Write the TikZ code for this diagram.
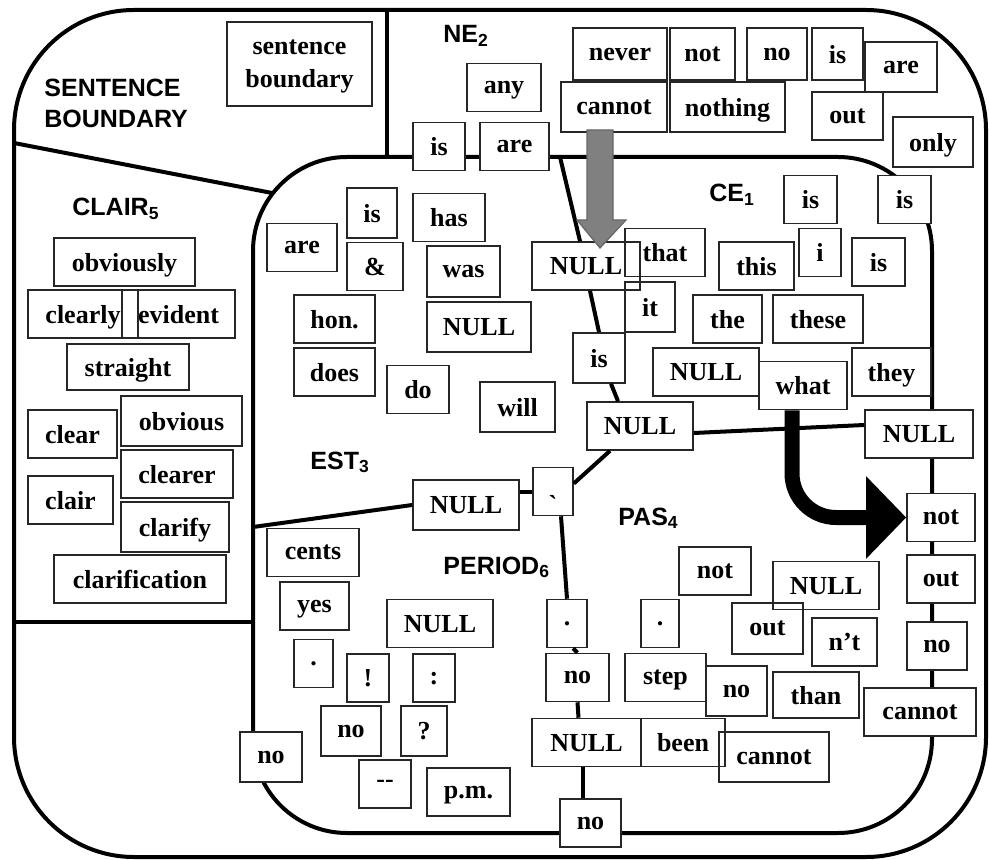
\documentclass[tikz,border=0pt]{standalone}
\usepackage{fontspec}
\setmainfont{Liberation Serif}
\newfontfamily\labelfamily{Liberation Sans}
\usetikzlibrary{arrows.meta}
\newcommand{\wordfont}{\fontsize{13}{16.5}\selectfont\bfseries}
\newcommand{\regionfont}{\labelfamily\fontsize{12.5}{15.5}\selectfont\bfseries}

\begin{document}
\begin{tikzpicture}[x=0.5pt, y=-0.5pt,
    word/.style={draw=black!85, line width=0.8pt, inner sep=0pt, minimum height=24pt, text depth=0pt, font=\wordfont},
    edgeword/.style={word, fill=white},
    border/.style={line width=2pt, line join=round},
    region/.style={anchor=base west, inner sep=0pt, font=\regionfont}]

    \useasboundingbox (0,0) rectangle (989,860);

    % Outer frame with its partitions
    \draw[border, rounded corners=60pt] (14,10) rectangle (986,857);
    \coordinate (neTop) at (387,10);
    \coordinate (neBot) at (387,157);
    \coordinate (sbL) at (14,143);
    \coordinate (sbR) at (272,193);
    \coordinate (clL) at (14,622);
    \coordinate (clR) at (253,622);
    \draw[border] (neTop) -- (neBot);
    \draw[border] (sbL) -- (sbR);
    \draw[border] (clL) -- (clR);

    % Inner frame
    \draw[border, rounded corners=47pt] (253,157) rectangle (932,833);
    \coordinate (ceTop) at (560,157);
    \coordinate (estL) at (253,527);

    % Region labels
    \node[region] (sbLabel) at (44,97) {SENTENCE};
    \node[region] (sbLabelB) at (44,128) {BOUNDARY};
    \node[region] (neLabel) at (443,43) {NE\textsubscript{2}};
    \node[region] (ceLabel) at (709,202) {CE\textsubscript{1}};
    \node[region] (clairLabel) at (72,216) {CLAIR\textsubscript{5}};
    \node[region] (estLabel) at (310,469) {EST\textsubscript{3}};
    \node[region] (pasLabel) at (618,525) {PAS\textsubscript{4}};
    \node[region] (periodLabel) at (443,574) {PERIOD\textsubscript{6}};

    % Sentence boundary - top left
    \node[word, minimum width=72.5pt, minimum height=42pt, align=center] (sbBox) at (299.5,64) {sentence\\boundary};

    % NE - top
    \node[word, minimum width=37pt] (anyN) at (504,87.5) {any};
    \node[edgeword, minimum width=26pt] (isN) at (439,146.5) {is};
    \node[edgeword, minimum width=34.5pt] (areN) at (514.5,146.5) {are};
    \node[word, minimum width=47pt, minimum height=26pt] (neverN) at (620,54) {never};
    \node[word, minimum width=32.5pt, minimum height=26pt] (notN) at (702.5,54) {not};
    \node[word, minimum width=30pt, minimum height=26pt] (noN) at (777,54) {no};
    \node[word, minimum width=25.5pt, minimum height=26pt] (isNB) at (837.5,54) {is};
    \node[word, minimum width=36pt, minimum height=25pt] (areNB) at (901,67) {are};
    \node[word, minimum width=53pt, minimum height=25pt] (cannotN) at (614,107) {cannot};
    \node[word, minimum width=57.5pt, minimum height=25pt] (nothingN) at (727.5,107) {nothing};
    \node[word, minimum width=35.5pt] (outN) at (847.5,116) {out};
    \node[word, minimum width=40pt, minimum height=25pt] (onlyN) at (933,142) {only};

    % CE - upper right
    \node[word, minimum width=26.5pt] (isC) at (810.5,199.5) {is};
    \node[edgeword, minimum width=26.5pt] (isCB) at (904.5,199.5) {is};
    \node[word, minimum width=54pt] (nullA) at (586,266) {NULL};
    \node[word, minimum width=40pt] (thatC) at (665,252.5) {that};
    \node[word, minimum width=37.5pt] (thisC) at (756.5,266) {this};
    \node[word, minimum width=21pt] (iC) at (820,252.5) {i};
    \node[word, minimum width=26.5pt] (isCC) at (878.5,262) {is};
    \node[word, minimum width=25pt, minimum height=25pt] (itC) at (650,307) {it};
    \node[word, minimum width=34.5pt] (theC) at (727.5,319) {the};
    \node[word, minimum width=45pt] (theseC) at (818,319) {these};
    \node[word, minimum width=26pt, minimum height=25pt] (isX) at (599,358) {is};
    \node[word, minimum width=53pt] (nullC) at (706,372) {NULL};
    \node[word, minimum width=44pt] (whatC) at (803,385.5) {what};
    \node[word, minimum width=39.5pt] (theyC) at (891.5,372) {they};
    \node[word, minimum width=53pt] (nullB) at (640,426) {NULL};
    \node[edgeword, minimum width=54pt] (nullR) at (919,434) {NULL};

    % EST - upper left of the inner frame
    \node[word, minimum width=25pt, minimum height=25pt] (isE) at (372,213) {is};
    \node[word, minimum width=36pt] (hasE) at (449,217.5) {has};
    \node[word, minimum width=35pt] (areE) at (302,247.5) {are};
    \node[word, minimum width=28pt] (ampE) at (375,266.5) {\&};
    \node[word, minimum width=36.5pt, minimum height=25.5pt] (wasE) at (463.5,271.5) {was};
    \node[word, minimum width=52pt, minimum height=25pt] (nullE) at (479,327) {NULL};
    \node[word, minimum width=40.5pt] (honE) at (334.5,319) {hon.};
    \node[word, minimum width=40.5pt] (doesE) at (334.5,372) {does};
    \node[word, minimum width=31pt] (doE) at (418,389.5) {do};
    \node[word, minimum width=37.5pt, minimum height=25pt] (willE) at (517.5,407) {will};
    \node[word, minimum width=53pt, minimum height=25pt] (nullD) at (466,505) {NULL};
    \node[word, minimum width=20pt] (dotX) at (553,491.5) {\smash{\raisebox{-11pt}{\textasciigrave}}};

    % CLAIR - left
    \node[word, minimum width=70.5pt] (obviouslyC) at (124.5,262) {obviously};
    \node[word, minimum width=55pt] (clearlyC) at (83,314) {clearly};
    \node[word, minimum width=56.5pt] (evidentC) at (178.5,314) {evident};
    \node[word, minimum width=61pt, minimum height=23pt] (straightC) at (128,367) {straight};
    \node[word, minimum width=44.5pt] (clearC) at (72.5,434) {clear};
    \node[word, minimum width=60.5pt, minimum height=25pt] (obviousC) at (181.5,421) {obvious};
    \node[word, minimum width=56pt] (clearerC) at (177,474) {clearer};
    \node[word, minimum width=42.5pt] (clairC) at (70.5,500) {clair};
    \node[word, minimum width=54pt, minimum height=25pt] (clarifyC) at (175,527) {clarify};
    \node[word, minimum width=86pt] (clarificationC) at (140,579) {clarification};

    % PERIOD - lower left of the inner frame
    \node[word, minimum width=46pt] (centsP) at (313,552.5) {cents};
    \node[word, minimum width=34.5pt] (yesP) at (314.5,606) {yes};
    \node[word, minimum width=53pt] (nullP) at (440,623.5) {NULL};
    \node[word, minimum width=19.5pt] (dotP) at (313.5,663.5) {.};
    \node[word, minimum width=21pt] (exclP) at (368,678) {!};
    \node[word, minimum width=21pt] (colonP) at (434,678) {:};
    \node[word, minimum width=30pt, minimum height=25pt] (noP) at (351,731) {no};
    \node[word, minimum width=23pt, minimum height=25pt] (quesP) at (424,731) {?};
    \node[word, minimum width=26pt] (dashP) at (385,784) {-{}-};
    \node[word, minimum width=41.5pt] (pmP) at (468.5,792) {p.m.};
    \node[edgeword, minimum width=31pt, minimum height=25pt] (noL) at (271,757) {no};
    \node[word, minimum width=20pt] (dotQ) at (567,623.5) {.};
    \node[word, minimum width=31.5pt] (noQ) at (577.5,677.5) {no};
    \node[word, minimum width=54.5pt] (nullF) at (586.5,742.5) {NULL};
    \node[word, minimum width=42pt] (beenF) at (683,742.5) {been};
    \node[edgeword, minimum width=30.5pt] (noB) at (590.5,823) {no};

    % PAS - lower right of the inner frame
    \node[word, minimum width=36pt] (notS) at (715,571) {not};
    \node[word, minimum width=53pt] (nullS) at (826,585.5) {NULL};
    \node[word, minimum width=19pt] (dotS) at (660,623.5) {.};
    \node[word, minimum width=35.5pt, minimum height=25.5pt] (outS) at (767.5,628.5) {out};
    \node[word, minimum width=32.5pt] (ntS) at (844.5,642) {n't};
    \node[word, minimum width=40.5pt] (stepS) at (665.5,677.5) {step};
    \node[word, minimum width=30.5pt, minimum height=25pt] (noS) at (736.5,691) {no};
    \node[word, minimum width=43pt, minimum height=23pt] (thanS) at (816,695) {than};
    \node[word, minimum width=55pt, minimum height=25pt] (cannotS) at (774,757) {cannot};

    % Right side of the inner frame
    \node[edgeword, minimum width=34pt] (notR) at (941,517.5) {not};
    \node[edgeword, minimum width=34pt] (outR) at (941,579) {out};
    \node[edgeword, minimum width=30pt] (noR) at (937,646) {no};
    \node[edgeword, minimum width=56pt] (cannotR) at (920,712) {cannot};

    % Inner partitions
    \draw[border] (ceTop) -- ([xshift=-3pt]nullA.north);
    \draw[border] ([xshift=2pt]nullA.south) -- (isX.north);
    \draw[border] ([xshift=6pt]isX.south) -- ([xshift=-11pt]nullB.north);
    \draw[border] ([yshift=-3.5pt]nullB.east) -- ([yshift=4.5pt]nullR.west);
    \draw[border] ([xshift=-15pt]nullB.south) -- ([yshift=4pt]dotX.east);
    \draw[border] (dotX.west) -- (nullD.east |- dotX.west);
    \draw[border] (nullD.west) -- (estL);
    \draw[border] ([xshift=4pt]dotX.south) -- (dotQ.north);
    \draw[border] ([xshift=3pt]dotQ.south) -- (noQ.north);
    \draw[border] (noQ.south) -- ([xshift=-4pt]nullF.north);
    \draw[border] ([xshift=-2pt]nullF.south) -- ([xshift=-4pt]noB.north);

    % Big arrows
    \coordinate (grayTail) at (600,130);
    \draw[fill=gray, draw=black!60, line width=0.6pt] (grayTail) ++(-13,0) -- ++(0,90) -- ++(-10,0)
        -- ++(23,28) -- ++(26,-28) -- ++(-13,0) -- ++(0,-90) -- cycle;
    \draw[line width=7.5pt, rounded corners=22pt, -{Triangle[length=20pt,width=40pt]}]
        ([xshift=-5.5pt]whatC.south) |- (notR.west);

\end{tikzpicture}
\end{document}
